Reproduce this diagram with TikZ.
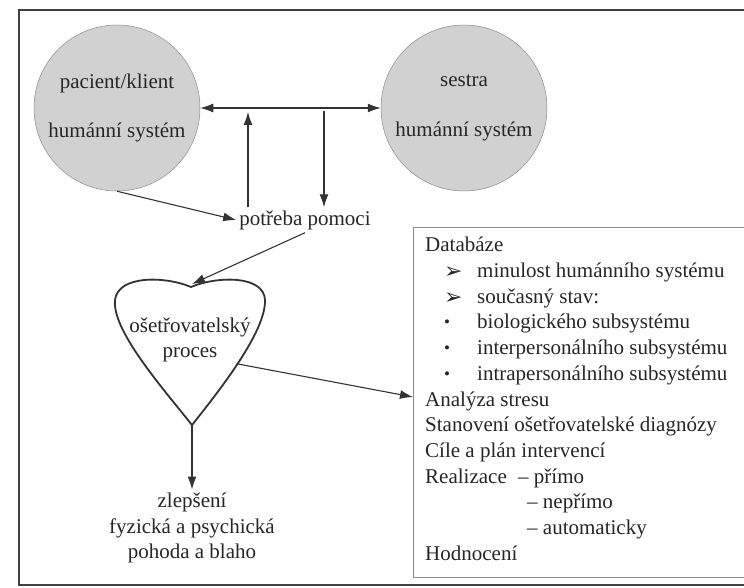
\documentclass[tikz,border=0pt]{standalone}
\usepackage{fontspec}
\setmainfont{Liberation Serif}
\newfontfamily\dingfont{DejaVu Sans}
\usetikzlibrary{arrows.meta}
\usetikzlibrary{calc}

\newcommand{\arrbul}{\raisebox{-1pt}{\dingfont\fontsize{22}{22}\selectfont ➢}}
\newcommand{\dotbul}{\raisebox{1pt}{\fontsize{17}{17}\selectfont •}}

\tikzset{
  >={Latex[length=13pt,width=9pt]},
  lbl/.style={font=\fontsize{21}{25.7}\selectfont, text=black!85, inner sep=3pt},
  sys/.style={circle, draw=black!45, line width=0.5pt, fill=black!18, minimum size=166pt, align=center},
  arr/.style={->, black!80, line width=1.1pt},
}

\begin{document}
\begin{tikzpicture}[x=1pt,y=-1pt]
      \useasboundingbox (0,0) rectangle (744,588);
      \clip (0,0) rectangle (744,588);
      \draw[black!75, line width=2pt] (760,10) -- (19,10) -- (19,585) -- (760,585);

      \node[sys,lbl] (pac) at (117,108) {pacient/klient\\[24pt]humánní systém};
      \node[sys,lbl] (ses) at (464,108) {sestra\\[24pt]humánní systém};
      \node[lbl] (need) at (305,220) {potřeba pomoci};
      \node[lbl, align=center] (proc) at (190,340) {ošetřovatelský\\proces};
      \node[lbl, align=center] (res) at (192,528) {zlepšení\\fyzická a psychická\\pohoda a blaho};

      \coordinate (up) at (248,112);
      \coordinate (dn) at (324,111);
      \coordinate (heart-top) at (192,284);
      \coordinate (heart-r) at (238,364);
      \coordinate (heart-bot) at (192,425);
      \coordinate (ana) at (413,397);

      \draw[black!80, line width=1.8pt, line join=miter]
        (heart-bot) .. controls (160,385) and (112,330) .. (115,300)
        .. controls (118,275) and (165,276) .. (191,287)
        .. controls (217,276) and (264,275) .. (265,300)
        .. controls (266,330) and (224,385) .. (heart-bot) -- cycle;

      \draw[black!45, line width=0.8pt] (413,227) rectangle (760,577);
      \node[lbl, anchor=north west, align=left] (db) at (422,234) {Databáze\\
        \hspace*{19pt}\makebox[33pt][l]{\arrbul}minulost humánního systému\\
        \hspace*{19pt}\makebox[33pt][l]{\arrbul}současný stav:\\
        \hspace*{19pt}\makebox[33pt][l]{\dotbul}biologického subsystému\\
        \hspace*{19pt}\makebox[33pt][l]{\dotbul}interpersonálního subsystému\\
        \hspace*{19pt}\makebox[33pt][l]{\dotbul}intrapersonálního subsystému\\
        Analýza stresu\\
        Stanovení ošetřovatelské diagnózy\\
        Cíle a plán intervencí\\
        \makebox[93pt][l]{Realizace}– přímo\\
        \hspace*{102pt}– nepřímo\\
        \hspace*{102pt}– automaticky\\
        Hodnocení};

      \path[arr,<->] (pac) edge (ses);
      \path[arr] (need.north -| up) edge (up);
      \path[arr] (dn) edge (need.north -| dn);
      \path[arr] (pac.south) edge (need.west);
      \path[arr] (need.south) edge (heart-top);
      \path[arr] (heart-r) edge (ana);
      \path[arr] (heart-bot) edge (res.north);
\end{tikzpicture}
\end{document}
